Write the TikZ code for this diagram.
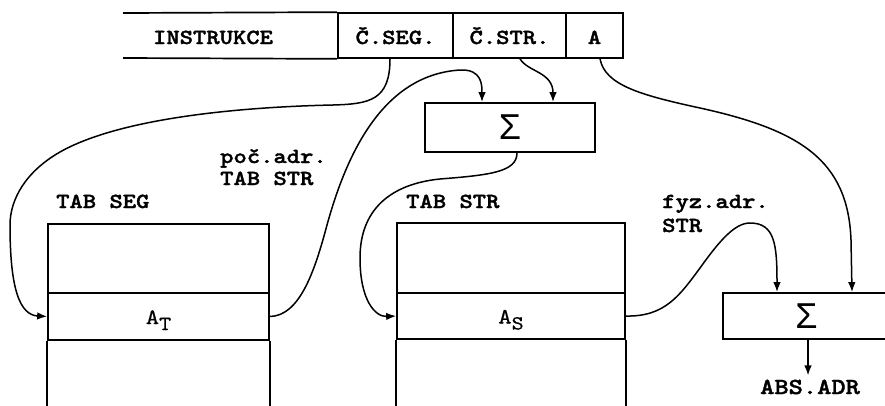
\documentclass[tikz,border=0pt]{standalone}
\usepackage{fontspec}
\newfontfamily\courb[FakeStretch=1.18, FakeBold=1.6]{lmmonolt10-bold.otf}
\newfontfamily\courr[FakeStretch=1.15, FakeBold=0.6]{lmmono10-regular.otf}
\newfontfamily\sigfont{Liberation Sans}
\usetikzlibrary{arrows.meta}
\begin{document}
\begin{tikzpicture}[x=1pt,y=-1pt,
  box/.style={draw, line width=1.7pt, inner sep=0pt},
  lbl/.style={font=\courb\fontsize{21.5}{21.5}\selectfont, inner sep=0pt},
  barlbl/.style={lbl, text height=17pt, text depth=0pt},
  rowtxt/.style={font=\courr\fontsize{22}{22}\selectfont, text height=19pt, text depth=4pt},
  sigtxt/.style={font=\sigfont\fontsize{36}{36}\selectfont},
  wire/.style={line width=1.5pt},
  conn/.style={wire, -{Latex[length=10pt,width=7.5pt]}}]
\path[use as bounding box, clip] (0,0) rectangle (885,405);

% instruction bar
\node[barlbl, minimum height=45pt] (instr) at (213,35.5) {INSTRUKCE};
\node[box, barlbl, minimum width=115pt, minimum height=45pt] (segc) at (395.5,35.5) {Č.SEG.};
\node[box, barlbl, minimum width=113pt, minimum height=45pt] (strc) at (509.5,35.5) {Č.STR.};
\node[box, barlbl, minimum width=57pt, minimum height=45pt] (ac) at (594.5,35.5) {A};
\coordinate (barnw) at (123,13);
\coordinate (barsw) at (123,58);
\draw[line width=1.7pt] (barnw) -- (segc.north west);
\draw[line width=1.7pt] (barsw) -- (segc.south west);

% adders
\node[box, sigtxt, minimum width=170pt, minimum height=49pt] (sig1) at (510,127.5) {Σ};
\node[box, sigtxt, minimum width=167pt, minimum height=46pt] (sig2) at (806.5,316) {Σ};

% TAB SEG
\node[box, minimum width=221pt, minimum height=69pt] (segtop) at (158.5,258.5) {};
\node[box, rowtxt, minimum width=221pt, minimum height=47pt] (segrow) at (158.5,316.5) {A\raisebox{-6pt}{\fontsize{20}{20}\selectfont T}};
\draw[line width=1.7pt] (segrow.south west) -- ++(0,80);
\draw[line width=1.7pt] (segrow.south east) -- ++(0,80);

% TAB STR
\node[box, minimum width=228pt, minimum height=70pt] (strtop) at (511,258) {};
\node[box, rowtxt, minimum width=228pt, minimum height=46pt] (strrow) at (511,316) {A\raisebox{-6pt}{\fontsize{20}{20}\selectfont S}};
\draw[line width=1.7pt] (strrow.south west) -- ++(0,80);
\draw[line width=1.7pt] (strrow.south east) -- ++(0,80);

% labels
\node[lbl, anchor=base west] (tabseg) at (56,208) {TAB SEG};
\node[lbl, anchor=base west] (tabstr) at (406,208) {TAB STR};
\node[lbl, anchor=base west] (poc1) at (220,163) {poč.adr.};
\node[lbl, anchor=base west] (poc2) at (220,185) {TAB STR};
\node[lbl, anchor=base west] (fyz1) at (662,208) {fyz.adr.};
\node[lbl, anchor=base west] (fyz2) at (662,232) {STR};
\node[lbl, anchor=base, font=\courb\fontsize{23}{23}\selectfont] (absadr) at (810,394) {ABS.ADR};

% connectors
\draw[conn] ([xshift=-5.5pt]segc.south)
  .. controls (390,100) and (370,104) .. (333,105)
  .. controls (240,107) and (120,118) .. (60,152)
  .. controls (25,172) and (10,200) .. (10,225)
  .. controls (10,290) and (20,315) .. (segrow.west);
\draw[conn] (segrow.east)
  .. controls (300,316) and (315,270) .. (327,225)
  .. controls (345,160) and (380,75) .. (460,70)
  .. controls (482,69) and (482,85) .. ([xshift=-28pt]sig1.north);
\draw[conn] ([xshift=10.5pt]strc.south)
  .. controls (528,72) and (553,72) .. ([xshift=43pt]sig1.north);
\draw[conn] ([xshift=7pt]sig1.south)
  .. controls (517,172) and (490,175) .. (440,179)
  .. controls (390,184) and (360,210) .. (360,258)
  .. controls (360,300) and (375,317) .. (strrow.west);
\draw[conn] ([xshift=5.5pt]ac.south)
  .. controls (605,85) and (640,95) .. (700,108)
  .. controls (800,130) and (848,160) .. (851,240)
  -- ([xshift=45.5pt]sig2.north);
\draw[conn] (strrow.east)
  .. controls (665,317) and (680,295) .. (700,268)
  .. controls (720,240) and (735,223) .. (750,223)
  .. controls (775,223) and (777,245) .. ([xshift=-29.5pt]sig2.north);
\draw[conn] ([xshift=1.5pt]sig2.south) -- ([xshift=1.5pt,yshift=4pt]sig2.south |- absadr.north);
\end{tikzpicture}
\end{document}
